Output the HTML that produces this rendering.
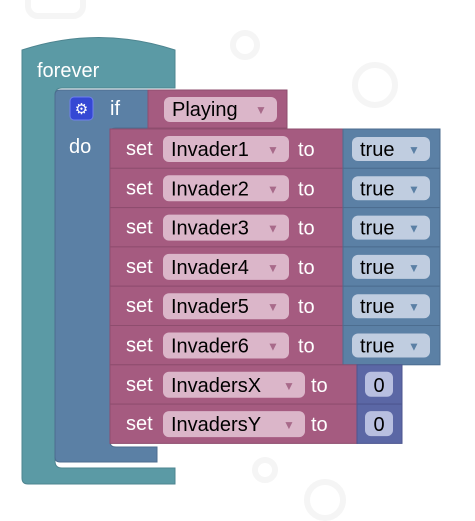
<!DOCTYPE html>
<html><head><meta charset="utf-8"><style>
html,body{margin:0;padding:0;background:#fff;}
svg{display:block;font-family:"Liberation Sans",Arial,sans-serif;}
</style></head><body>
<svg width="475" height="521" viewBox="0 0 475 521" xmlns="http://www.w3.org/2000/svg">
<g fill="none" stroke="#f5f5f5" stroke-width="6">
<rect x="28" y="-10" width="55" height="26" rx="10"/>
<circle cx="245" cy="45" r="12"/>
<circle cx="375" cy="85" r="20" />
<circle cx="265" cy="470" r="10"/>
<circle cx="325" cy="500" r="18"/>
</g>
<path d="M22,50 Q99,25 175,50 L175,88 L62,88 Q55,88 55,95 L55,461 Q55,468 62,468 L175,468 L175,484 L28,484 Q22,484 22,478 Z" fill="#5b9aa5" stroke="#4e8590" stroke-width="1"/>
<text x="37" y="77" font-size="20" fill="#fff">forever</text>
<path d="M60,90 L157,90 L157,128 L116,128 Q110,128 110,134 L110,442 Q110,447 116,447 L157,447 L157,462 L60,462 Q55,462 55,457 L55,95 Q55,90 60,90 Z" fill="#5b80a5" stroke="#4c6d8f" stroke-width="1"/>
<rect x="70" y="97" width="23" height="23" rx="4" fill="#3548d4" stroke="#6f80ef"/>
<text x="81.5" y="114" font-size="15" fill="#fff" text-anchor="middle">⚙</text>
<text x="110" y="115" font-size="20" fill="#fff">if</text>
<text x="69" y="153" font-size="20" fill="#fff">do</text>
<rect x="148" y="90" width="139" height="38" fill="#a55b80" stroke="#8e4d6e"/>
<rect x="164" y="97" width="113" height="25" rx="6" fill="#dbb6c9"/>
<text x="172" y="116" font-size="20" fill="#000">Playing</text>
<text x="255" y="114" font-size="12" fill="#a86a8a">▼</text>
<g id="rows"></g>
</svg>
<script>
var rows=[["Invader1","true"],["Invader2","true"],["Invader3","true"],["Invader4","true"],["Invader5","true"],["Invader6","true"],["InvadersX","0"],["InvadersY","0"]];
var g=document.getElementById('rows'),s='';
rows.forEach(function(r,i){
var y=129+i*39.3, num=r[1]=="0", fw=num?142:126, to=num?311:298, vx=num?357:343;
s+='<rect x="110" y="'+y+'" width="'+(vx-110)+'" height="39.3" fill="#a55b80" stroke="#8e4d6e"/>';
s+='<text x="126" y="'+(y+26)+'" font-size="20" fill="#fff">set</text>';
s+='<rect x="163" y="'+(y+7)+'" width="'+fw+'" height="26" rx="6" fill="#dbb6c9"/>';
s+='<text x="171" y="'+(y+27)+'" font-size="20" fill="#000">'+r[0]+'</text>';
s+='<text x="'+(163+fw-22)+'" y="'+(y+25)+'" font-size="12" fill="#a86a8a">▼</text>';
s+='<text x="'+to+'" y="'+(y+27)+'" font-size="20" fill="#fff">to</text>';
if(num){
s+='<rect x="357" y="'+y+'" width="45" height="39.3" fill="#5b67a5" stroke="#4c568f"/>';
s+='<rect x="365" y="'+(y+7)+'" width="28" height="25" rx="6" fill="#b8bfe0"/>';
s+='<text x="379" y="'+(y+27)+'" font-size="20" fill="#000" text-anchor="middle">0</text>';
}else{
s+='<rect x="343" y="'+y+'" width="97" height="39.3" fill="#5b80a5" stroke="#4c6d8f"/>';
s+='<rect x="352" y="'+(y+8)+'" width="78" height="24" rx="6" fill="#c0cde0"/>';
s+='<text x="360" y="'+(y+27)+'" font-size="20" fill="#000">true</text>';
s+='<text x="408" y="'+(y+25)+'" font-size="12" fill="#5b80a5">▼</text>';
}
});
g.innerHTML=s;
</script>
</body></html>
